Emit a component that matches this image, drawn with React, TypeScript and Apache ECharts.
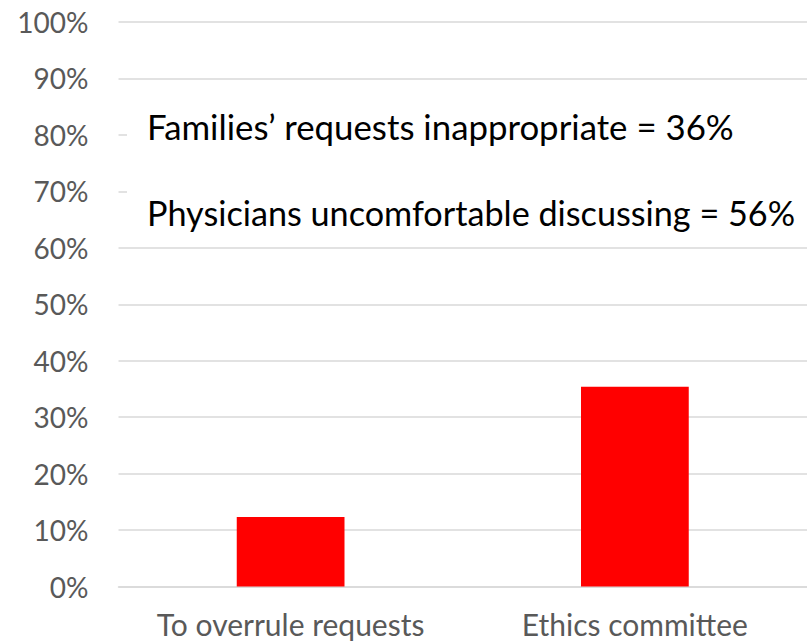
import React, { useEffect, useRef } from "react";
import * as echarts from "echarts";

const categories = ["To overrule requests", "Ethics committee"];
const values = [12.3, 35.4];
const annotations = [
  "Families\u2019 requests inappropriate = 36%",
  "Physicians uncomfortable discussing = 56%",
];

export default function App() {
  const ref = useRef<HTMLDivElement>(null);
  useEffect(() => {
    document.body.style.margin = "0";
    const chart = echarts.init(ref.current!, null, { renderer: "svg" });
    chart.setOption({
      animation: false,
      backgroundColor: "#ffffff",
      grid: { left: 118.5, right: -1.5, top: 22, bottom: 54.5, containLabel: false },
      xAxis: {
        type: "category",
        data: categories,
        axisLine: { show: true, lineStyle: { color: "#d9d9d9", width: 1.5 } },
        axisTick: { show: false },
        axisLabel: {
          interval: 0,
          hideOverlap: false,
          color: "#595959",
          fontFamily: "Lato",
          fontSize: 30,
          margin: 22,
        },
      },
      yAxis: {
        type: "value",
        min: 0,
        max: 100,
        interval: 10,
        axisLine: { show: false },
        axisTick: { show: false },
        splitLine: { lineStyle: { color: "#d9d9d9", width: 1.5 } },
        axisLabel: {
          formatter: "{value}%",
          color: "#595959",
          fontFamily: "Lato",
          fontSize: 28,
          margin: 30,
        },
      },
      series: [
        {
          type: "bar",
          data: values,
          barWidth: "31.3%",
          itemStyle: { color: "#ff0000" },
        },
      ],
      graphic: [
        {
          type: "rect",
          shape: { x: 127, y: 96, width: 700, height: 140 },
          style: { fill: "#ffffff" },
          z: 10,
        },
        {
          type: "text",
          x: 147,
          y: 126,
          z: 11,
          style: {
            text: annotations[0],
            fontFamily: "Lato",
            fontSize: 34.8,
            fill: "#000000",
            textVerticalAlign: "middle",
          },
        },
        {
          type: "text",
          x: 147,
          y: 212,
          z: 11,
          style: {
            text: annotations[1],
            fontFamily: "Lato",
            fontSize: 34.2,
            fill: "#000000",
            textVerticalAlign: "middle",
          },
        },
      ],
    });
    return () => chart.dispose();
  }, []);
  return (
    <div
      ref={ref}
      style={{ position: "fixed", left: 0, top: 0, width: 807, height: 641 }}
    />
  );
}
